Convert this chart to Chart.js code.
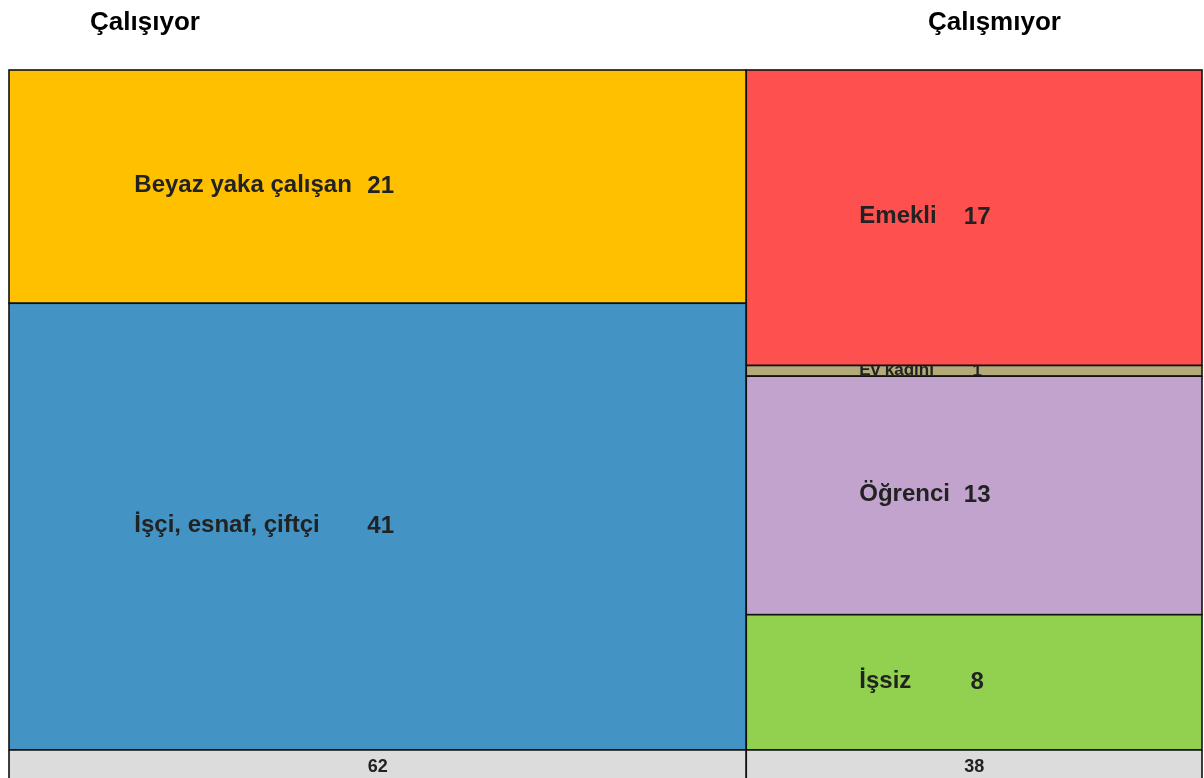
<!DOCTYPE html>
<html>
<head>
<meta charset="utf-8">
<script src="https://cdn.jsdelivr.net/npm/chart.js@4"></script>
<style>
  body { margin: 0; background: #fff; }
  #wrap { width: 1204px; height: 778px; position: relative; }
</style>
</head>
<body>
<div id="wrap"><canvas id="mosaic"></canvas></div>
<script>
// columns of the mosaic; their totals (grey strip) are the sums of the segments
const groups = ["Çalışıyor", "Çalışmıyor"];

// segments inside each column, share of all respondents
const workingLabels = ["Beyaz yaka çalışan", "İşçi, esnaf, çiftçi"];
const workingValues = [21.2, 40.6];
const notWorkingLabels = ["Emekli", "Ev kadını", "Öğrenci", "İşsiz"];
const notWorkingValues = [16.6, 0.6, 13.4, 7.6];

const COLORS = [
  ["#ffc000", "#4394c4"],
  ["#ff5050", "#b3a979", "#c1a3cd", "#92d050"],
];
// where the group title sits (axis units) and where labels start (share of column)
const TITLE_X = [11.4, 82.6];
const LABEL_OFFSET = [0.17, 0.248];
const FONT = "'Liberation Sans', Arial, sans-serif";

const segments = [
  { labels: workingLabels, values: workingValues },
  { labels: notWorkingLabels, values: notWorkingValues },
];

const sum = (arr) => arr.reduce((a, b) => a + b, 0);

const mosaicPlugin = {
  id: "mosaic",
  afterDatasetsDraw(chart) {
    const { ctx, chartArea, scales } = chart;
    const xs = scales.x, ys = scales.y;
    const stripBottom = chart.height;
    let xStart = 0;
    ctx.save();
    segments.forEach((col, ci) => {
      const colTotal = sum(col.values);
      const xEnd = xStart + colTotal;
      const px0 = xs.getPixelForValue(xStart);
      const px1 = xs.getPixelForValue(xEnd);
      let yStart = 0;
      col.values.forEach((v, si) => {
        const yEnd = yStart + (v / colTotal) * 100;
        const py0 = ys.getPixelForValue(yStart);
        const py1 = ys.getPixelForValue(yEnd);
        ctx.fillStyle = COLORS[ci][si];
        ctx.fillRect(px0, py0, px1 - px0, py1 - py0);
        ctx.lineWidth = 1.6;
        ctx.strokeStyle = "#111";
        ctx.strokeRect(px0, py0, px1 - px0, py1 - py0);

        // label + rounded value, clipped to the cell; thin cells get smaller text
        ctx.save();
        ctx.beginPath();
        ctx.rect(px0, py0, px1 - px0, py1 - py0);
        ctx.clip();
        const cy = (py0 + py1) / 2;
        const size = py1 - py0 < 20 ? 17 : 24;
        ctx.fillStyle = "#222";
        ctx.font = `bold ${size}px ${FONT}`;
        ctx.textBaseline = "middle";
        ctx.textAlign = "left";
        ctx.fillText(col.labels[si], px0 + (px1 - px0) * LABEL_OFFSET[ci], cy - 1);
        ctx.textAlign = "center";
        ctx.fillText(String(Math.round(v)), (px0 + px1) / 2 + 3, cy);
        ctx.restore();
        yStart = yEnd;
      });

      // grey totals strip under the column
      ctx.fillStyle = "#dcdcdc";
      ctx.fillRect(px0, chartArea.bottom, px1 - px0, stripBottom - chartArea.bottom);
      ctx.strokeStyle = "#111";
      ctx.lineWidth = 1.6;
      ctx.beginPath();
      ctx.moveTo(px0, chartArea.bottom);
      ctx.lineTo(px1, chartArea.bottom);
      ctx.moveTo(px0, chartArea.bottom);
      ctx.lineTo(px0, stripBottom);
      ctx.moveTo(px1, chartArea.bottom);
      ctx.lineTo(px1, stripBottom);
      ctx.stroke();
      ctx.fillStyle = "#222";
      ctx.font = `bold 18px ${FONT}`;
      ctx.textAlign = "center";
      ctx.textBaseline = "middle";
      ctx.fillText(String(Math.round(colTotal)), (px0 + px1) / 2, (chartArea.bottom + stripBottom) / 2 + 3);

      // group title above
      ctx.fillStyle = "#000";
      ctx.font = `bold 26px ${FONT}`;
      ctx.fillText(groups[ci], xs.getPixelForValue(TITLE_X[ci]), 23);
      xStart = xEnd;
    });
    ctx.restore();
  },
};

new Chart(document.getElementById("mosaic"), {
  type: "scatter",
  data: { datasets: [{ data: [] }] },
  options: {
    responsive: true,
    maintainAspectRatio: false,
    animation: false,
    layout: { padding: { left: 9, right: 2, top: 70, bottom: 28 } },
    plugins: { legend: { display: false }, tooltip: { enabled: false } },
    scales: {
      x: { type: "linear", min: 0, max: 100, display: false },
      y: { type: "linear", min: 0, max: 100, reverse: true, display: false },
    },
  },
  plugins: [mosaicPlugin],
});
</script>
</body>
</html>
